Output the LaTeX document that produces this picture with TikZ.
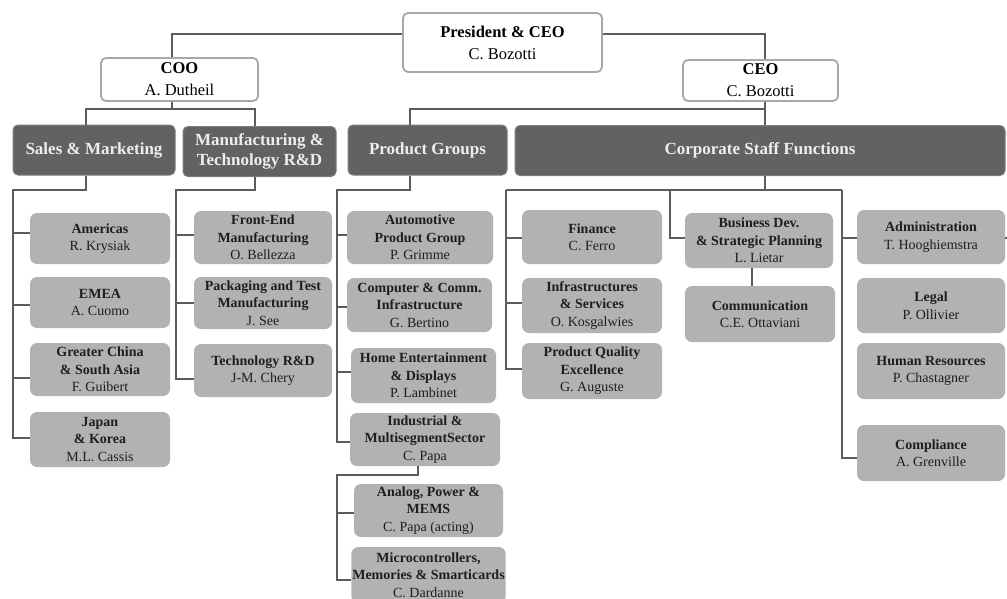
\documentclass[tikz,border=0pt]{standalone}
\usepackage{fontspec}
\setmainfont{Liberation Serif}
\usetikzlibrary{positioning, calc}
\definecolor{edgegray}{HTML}{A8A8A8}
\definecolor{groupgray}{HTML}{626262}
\definecolor{groupedge}{HTML}{7C7C7C}
\definecolor{grouptext}{HTML}{EEEEEE}
\definecolor{unitgray}{HTML}{B2B2B2}
\definecolor{unittext}{HTML}{1E1E1E}
\definecolor{linegray}{HTML}{5C5C5C}
\tikzset{
    topbox/.style={rectangle, rounded corners=5pt, draw=edgegray, line width=1.8pt, fill=white, align=center, inner sep=1pt, font=\fontsize{16.5}{22}\selectfont},
    groupbox/.style={rectangle, rounded corners=5pt, draw=groupedge, line width=1pt, fill=groupgray, text=grouptext, align=center, inner sep=1pt, minimum height=50pt, font=\bfseries\fontsize{17}{20}\selectfont},
    unitbox/.style={rectangle, rounded corners=7pt, fill=unitgray, text=unittext, align=center, inner sep=1pt, font=\fontsize{14}{17.5}\selectfont},
    link/.style={draw=linegray, line width=1.3pt}
}

\begin{document}
\begin{tikzpicture}[x=1pt, y=-1pt]
        \useasboundingbox (0,0) rectangle (1007,598);
        % top level
        \node[topbox, minimum width=199pt, minimum height=59pt] (pres) at (502.5,42.5) {\textbf{President \& CEO}\\C. Bozotti};
        \node[topbox, minimum width=157pt, minimum height=43pt] (coo) at (179.5,79.5) {\textbf{COO}\\A. Dutheil};
        \node[topbox, minimum width=155pt, minimum height=41pt] (ceo) at (760.5,80.5) {\textbf{CEO}\\C. Bozotti};
        \draw[link] ([yshift=8.5pt]pres.west) -| ([xshift=-7.5pt]coo.north);
        \draw[link] ([yshift=8.5pt]pres.east) -| ([xshift=4.5pt]ceo.north);

        % groups
        \node[groupbox, minimum width=162pt] (sales) at (94,150) {Sales \& Marketing};
        \node[groupbox, minimum width=153pt] (manuf) at (259.5,151.5) {Manufacturing \&\\Technology R\&D};
        \node[groupbox, minimum width=159pt] (prodg) at (427.5,150) {Product Groups};
        \node[groupbox, minimum width=490pt] (corp) at (760,150.5) {Corporate Staff Functions};
        \draw[link] ([xshift=-7.5pt]coo.south) -- ++(0,7) -| ([xshift=-8pt]sales.north);
        \draw[link] ([xshift=-7.5pt]coo.south) -- ++(0,7) -| ([xshift=-4.5pt]manuf.north);
        \draw[link] ([xshift=4.5pt]ceo.south) -- ([xshift=5pt]corp.north);
        \draw[link] ([xshift=4.5pt]ceo.south) -- ++(0,7) -| ([xshift=-17.5pt]prodg.north);

        % sales & marketing
        \node[unitbox, minimum width=140pt, minimum height=51pt] (americas) at (100,238.5) {\textbf{Americas}\\R. Krysiak};
        \node[unitbox, minimum width=140pt, minimum height=51pt] (emea) at (100,302.5) {\textbf{EMEA}\\A. Cuomo};
        \node[unitbox, minimum width=140pt, minimum height=53pt] (china) at (100,369.5) {\textbf{Greater China}\\\textbf{\& South Asia}\\F. Guibert};
        \node[unitbox, minimum width=140pt, minimum height=55pt] (japan) at (100,439.5) {\textbf{Japan}\\\textbf{\& Korea}\\M.L. Cassis};
        \coordinate (salesbus) at (13,190);
        \draw[link] ([xshift=-8pt]sales.south) |- (salesbus) |- ([yshift=1.5pt]japan.west);
        \foreach \n/\s in {americas/5.5, emea/-2.5, china/-8.5}
            \draw[link] (salesbus) |- ([yshift=\s pt]\n.west);

        % manufacturing & technology
        \node[unitbox, minimum width=138pt, minimum height=53pt] (frontend) at (263,237.5) {\textbf{Front-End}\\\textbf{Manufacturing}\\O. Bellezza};
        \node[unitbox, minimum width=138pt, minimum height=52pt] (packtest) at (263,303) {\textbf{Packaging and Test}\\\textbf{Manufacturing}\\J. See};
        \node[unitbox, minimum width=138pt, minimum height=53pt] (techrd) at (263,370.5) {\textbf{Technology R\&D}\\J-M. Chery};
        \coordinate (manufbus) at (176,190);
        \draw[link] ([xshift=-4.5pt]manuf.south) |- (manufbus) |- ([yshift=-8.5pt]techrd.west);
        \foreach \n/\s in {frontend/2.5, packtest/0}
            \draw[link] (manufbus) |- ([yshift=\s pt]\n.west);

        % product groups
        \node[unitbox, minimum width=146pt, minimum height=53pt] (auto) at (420,237.5) {\textbf{Automotive}\\\textbf{Product Group}\\P. Grimme};
        \node[unitbox, minimum width=145pt, minimum height=54pt] (compcomm) at (419.5,305) {\textbf{Computer \& Comm.}\\\textbf{Infrastructure}\\G. Bertino};
        \node[unitbox, minimum width=145pt, minimum height=55pt] (home) at (423.5,375.5) {\textbf{Home Entertainment}\\\textbf{\& Displays}\\P. Lambinet};
        \node[unitbox, minimum width=150pt, minimum height=53pt] (indus) at (425,439.5) {\textbf{Industrial \&}\\\textbf{MultisegmentSector}\\C. Papa};
        \coordinate (prodbus) at (337,190);
        \draw[link] ([xshift=-17.5pt]prodg.south) |- (prodbus) |- ([yshift=-2.5pt]indus.west);
        \foreach \n/\s in {auto/2.5, compcomm/-2, home/3.5}
            \draw[link] (prodbus) |- ([yshift=\s pt]\n.west);

        % industrial & multisegment sector
        \node[unitbox, minimum width=149pt, minimum height=53pt] (analog) at (428.5,510.5) {\textbf{Analog, Power \&}\\\textbf{MEMS}\\C. Papa (acting)};
        \node[unitbox, minimum width=149pt, minimum height=56pt] (micro) at (428.5,575) {\textbf{Microcontrollers,}\\\textbf{Memories \& Smarticards}\\C. Dardanne};
        \coordinate (indusbus) at (337,475);
        \draw[link] ([xshift=-7pt]indus.south) |- (indusbus) |- ([yshift=-5pt]micro.west);
        \draw[link] (indusbus) |- ([yshift=-2.5pt]analog.west);

        % corporate staff functions
        \node[unitbox, minimum width=140pt, minimum height=54pt] (finance) at (592,237) {\textbf{Finance}\\C. Ferro};
        \node[unitbox, minimum width=140pt, minimum height=55pt] (infra) at (592,305.5) {\textbf{Infrastructures}\\\textbf{\& Services}\\O. Kosgalwies};
        \node[unitbox, minimum width=140pt, minimum height=56pt] (quality) at (592,371) {\textbf{Product Quality}\\\textbf{Excellence}\\G. Auguste};
        \node[unitbox, minimum width=148pt, minimum height=55pt] (bizdev) at (759,240.5) {\textbf{Business Dev.}\\\textbf{\& Strategic Planning}\\L. Lietar};
        \node[unitbox, minimum width=150pt, minimum height=56pt] (comm) at (760,314) {\textbf{Communication}\\C.E. Ottaviani};
        \node[unitbox, minimum width=148pt, minimum height=54pt] (admin) at (931,237) {\textbf{Administration}\\T. Hooghiemstra};
        \node[unitbox, minimum width=148pt, minimum height=55pt] (legal) at (931,305.5) {\textbf{Legal}\\P. Ollivier};
        \node[unitbox, minimum width=148pt, minimum height=56pt] (hr) at (931,371) {\textbf{Human Resources}\\P. Chastagner};
        \node[unitbox, minimum width=148pt, minimum height=56pt] (compl) at (931,453) {\textbf{Compliance}\\A. Grenville};
        \coordinate (corpleft) at (506,190);
        \coordinate (corpmid) at (670,190);
        \coordinate (corpright) at (842,190);
        \coordinate (adminstub) at (1007,238);
        \draw[link] ([xshift=5pt]corp.south) -- ([xshift=5pt]corp.south |- corpleft);
        \draw[link] (corpleft) -- (corpright);
        \draw[link] (corpleft) |- ([yshift=2pt]quality.west);
        \foreach \n/\s in {finance/-1, infra/2.5}
            \draw[link] (corpleft) |- ([yshift=\s pt]\n.west);
        \draw[link] (corpmid) |- ([yshift=2.5pt]bizdev.west);
        \draw[link] ([xshift=-7pt]bizdev.south) -- ([xshift=-8pt]comm.north);
        \draw[link] (corpright) |- ([yshift=-5pt]compl.west);
        \draw[link] (corpright) |- ([yshift=-1pt]admin.west);
        \draw[link] ([yshift=-1pt]admin.east) -- (adminstub);
    \end{tikzpicture}
\end{document}
